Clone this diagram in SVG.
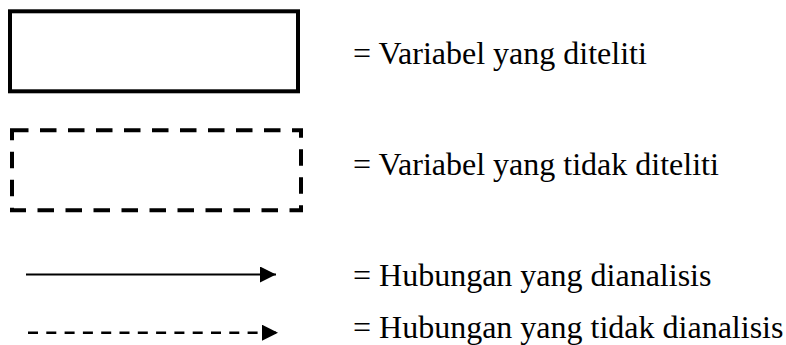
<svg xmlns="http://www.w3.org/2000/svg" width="786" height="345" viewBox="0 0 786 345">
<defs>
<style>
.box{fill:#fff;stroke:#000;stroke-width:4}
.dash{stroke-dasharray:16.5 11.5}
.lbl{font-family:"Liberation Serif","Times New Roman",serif;font-size:32px;fill:#000}
.ln{stroke:#000;fill:none}
</style>
<marker id="ah" markerUnits="userSpaceOnUse" markerWidth="17" markerHeight="17" refX="16" refY="8" orient="auto">
<path d="M0,0 L16,8 L0,16 Z" fill="#000"/>
</marker>
</defs>
<rect width="786" height="345" fill="#fff"/>
<g id="node-diteliti">
<rect class="box" x="10" y="11.3" width="288" height="80"/>
<text class="lbl" x="353" y="63.5">= Variabel yang diteliti</text>
</g>
<g id="node-tidak-diteliti">
<rect class="box dash" x="12" y="130.3" width="289" height="80"/>
<text class="lbl" x="353" y="174.5">= Variabel yang tidak diteliti</text>
</g>
<g id="connectors">
<line class="ln" x1="26" y1="274.5" x2="276" y2="274.5" stroke-width="2.2" marker-end="url(#ah)"/>
<line class="ln" x1="28" y1="332.7" x2="278" y2="332.7" stroke-width="2.6" stroke-dasharray="10 8.3" marker-end="url(#ah)"/>
</g>
<g id="legend-text">
<text class="lbl" x="353" y="286">= Hubungan yang dianalisis</text>
<text class="lbl" x="353" y="338">= Hubungan yang tidak dianalisis</text>
</g>
</svg>
